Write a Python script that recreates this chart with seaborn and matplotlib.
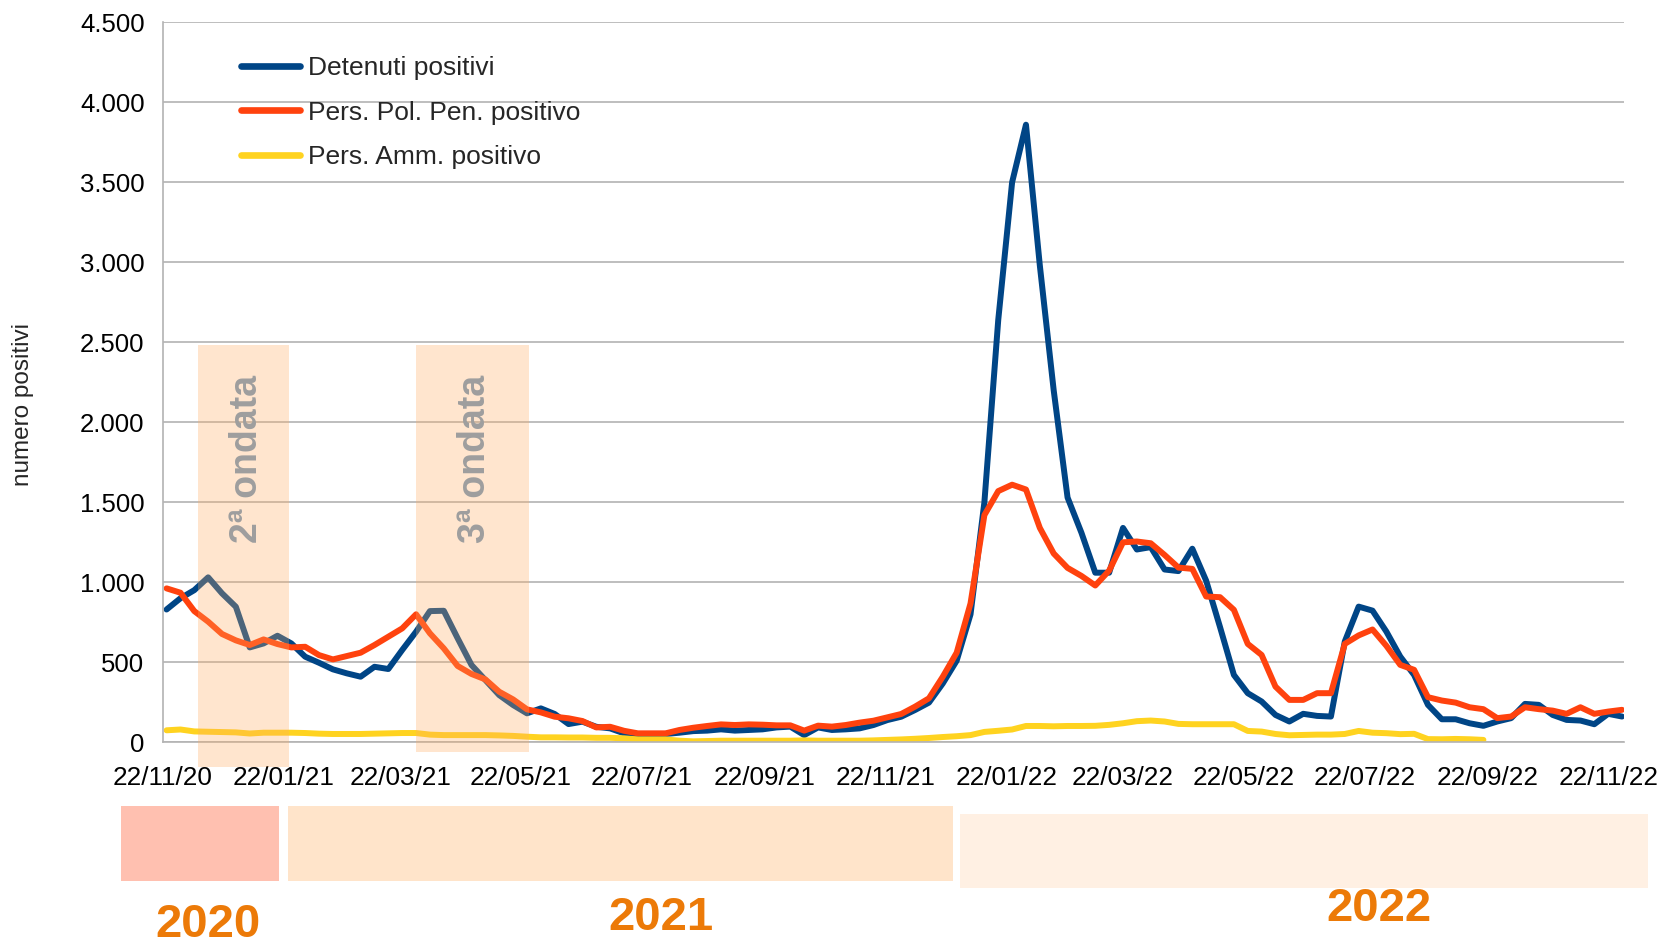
import matplotlib
matplotlib.use('Agg')
import matplotlib.pyplot as plt
import matplotlib.dates as mdates
from matplotlib.patches import Rectangle
from matplotlib.ticker import FuncFormatter, MultipleLocator
import seaborn as sns
import pandas as pd

# weekly counts, first reading 24/11/20
first_day = '2020-11-24'
detenuti = [830, 900, 951, 1031, 931, 847, 593, 618, 666, 618,
            535, 497, 456, 431, 410, 472, 458, 577, 691, 820,
            822, 650, 483, 389, 295, 233, 181, 212, 177, 114,
            129, 97, 87, 56, 52, 52, 52, 60, 70, 73,
            81, 73, 77, 81, 93, 98, 45, 93, 77, 81,
            87, 108, 139, 160, 202, 248, 368, 510, 800, 1500,
            2640, 3500, 3860, 2980, 2200, 1530, 1310, 1060, 1060, 1340,
            1205, 1220, 1080, 1070, 1210, 1010, 720, 421, 307, 255,
            171, 130, 178, 165, 161, 630, 848, 823, 692, 536,
            421, 234, 144, 144, 119, 103, 130, 151, 240, 234,
            171, 140, 136, 113, 178, 161]
pol_pen = [962, 935, 820, 754, 677, 637, 608, 643, 614, 593,
           597, 545, 518, 539, 560, 608, 660, 712, 800, 681,
           587, 477, 427, 393, 316, 268, 206, 187, 160, 150,
           133, 93, 97, 72, 56, 56, 56, 77, 91, 102,
           112, 108, 112, 110, 106, 106, 73, 104, 98, 108,
           123, 135, 156, 177, 223, 275, 410, 560, 868, 1420,
           1570, 1610, 1580, 1340, 1180, 1090, 1040, 980, 1073, 1250,
           1255, 1244, 1171, 1092, 1084, 911, 907, 828, 615, 546,
           348, 265, 265, 307, 307, 615, 668, 705, 603, 484,
           453, 282, 261, 248, 219, 207, 151, 161, 219, 207,
           198, 178, 219, 178, 192, 203]
amm = [75, 80, 68, 66, 64, 62, 55, 60, 60, 60,
       58, 54, 52, 52, 52, 54, 56, 58, 58, 48,
       45, 45, 45, 45, 43, 40, 35, 31, 31, 30,
       30, 28, 28, 25, 18, 18, 18, 10, 6, 8,
       10, 10, 10, 10, 10, 10, 12, 10, 10, 10,
       10, 12, 15, 18, 22, 27, 33, 38, 45, 65,
       72, 80, 102, 102, 100, 102, 102, 103, 109, 119,
       132, 136, 130, 115, 113, 113, 113, 113, 71, 67,
       52, 44, 46, 48, 48, 52, 71, 60, 57, 51,
       53, 20, 19, 21, 19, 15]

series_names = ['Detenuti positivi', 'Pers. Pol. Pen. positivo', 'Pers. Amm. positivo']
series_colors = ['#004586', '#ff420e', '#ffd320']

tick_dates = ['2020-11-22', '2021-01-22', '2021-03-22', '2021-05-22', '2021-07-22',
              '2021-09-22', '2021-11-22', '2022-01-22', '2022-03-22', '2022-05-22',
              '2022-07-22', '2022-09-22', '2022-11-22']
tick_labels = ['22/11/20', '22/01/21', '22/03/21', '22/05/21', '22/07/21', '22/09/21',
               '22/11/21', '22/01/22', '22/03/22', '22/05/22', '22/07/22', '22/09/22',
               '22/11/22']

wave_labels = ['2ª ondata', '3ª ondata']
wave_start = ['2020-12-10', '2021-03-30']
wave_end = ['2021-01-25', '2021-05-26']

years = ['2020', '2021', '2022']

dates = pd.date_range(first_day, periods=len(detenuti), freq='7D')

sns.set_style('white')
plt.rcParams['font.family'] = ['Liberation Sans', 'DejaVu Sans']

W, H = 1666, 944
fig = plt.figure(figsize=(W / 100, H / 100), dpi=100)
ax = fig.add_axes([162.6 / W, 1 - 742.3 / H, (1623.5 - 162.6) / W, 720 / H])

for vals, name, col in zip([detenuti, pol_pen, amm], series_names, series_colors):
    sns.lineplot(x=dates[:len(vals)], y=vals, color=col, linewidth=4.3, label=name,
                 ax=ax, zorder=2)

ax.set_xlim(pd.Timestamp('2020-11-22'), pd.Timestamp('2022-11-29 18:00'))
ax.set_ylim(0, 4500)
ax.yaxis.set_major_locator(MultipleLocator(500))
ax.yaxis.set_major_formatter(FuncFormatter(lambda v, p: f'{int(v):,}'.replace(',', '.')))
ax.set_xticks(pd.to_datetime(tick_dates))
ax.set_xticklabels(tick_labels)

grid_col = '#b3b3b3'
ax.yaxis.grid(True, color=grid_col, linewidth=1.2)
ax.set_axisbelow(True)
for s in ['top', 'right']:
    ax.spines[s].set_visible(False)
for s in ['left', 'bottom']:
    ax.spines[s].set_color(grid_col)
    ax.spines[s].set_linewidth(1.2)
ax.tick_params(axis='both', length=8, width=1.2, color=grid_col, labelcolor='black')
ax.tick_params(axis='x', pad=9, labelsize=18.8)
ax.tick_params(axis='y', pad=5, labelsize=18.5)
ax.set_xlabel('')
ax.set_ylabel('')

fig.text(23 / W, 1 - 404 / H, 'numero positivi', rotation=90, ha='center', va='center',
         fontsize=17.5)

# wave bands, drawn over the lines
wave_bottoms = [-155, -60]
for lab, s, e, b in zip(wave_labels, wave_start, wave_end, wave_bottoms):
    x0 = mdates.date2num(pd.Timestamp(s))
    x1 = mdates.date2num(pd.Timestamp(e))
    ax.add_patch(Rectangle((x0, b), x1 - x0, 2480 - b, facecolor='#ffac5f', alpha=0.3,
                           edgecolor='none', zorder=3, clip_on=False))
    ax.text((x0 + x1) / 2 + 1.5, 1770, lab, rotation=90, ha='center', va='center',
            fontsize=27, fontweight='bold', color='#9e9e9e', zorder=4)

leg = ax.legend(loc='upper left', bbox_to_anchor=(0.054, 0.953), frameon=False,
                fontsize=19, handlelength=2.2, handletextpad=0.32, labelspacing=0.78,
                borderpad=0, borderaxespad=0)
for ln in leg.get_lines():
    ln.set_linewidth(4.8)

# year boxes under the axis
year_boxes = [(121, 806, 279, 881, '#ffc0b0'),
              (288, 806, 953, 881, '#ffe4ca'),
              (960, 814, 1648, 888, '#fff0e3')]
year_pos = [(208, 925), (661, 918), (1379, 909)]
for (x0, y0, x1, y1, c), yr, (tx, ty) in zip(year_boxes, years, year_pos):
    fig.patches.append(Rectangle((x0 / W, 1 - y1 / H), (x1 - x0) / W, (y1 - y0) / H,
                                 transform=fig.transFigure, facecolor=c,
                                 edgecolor='none', zorder=0))
    fig.text(tx / W, 1 - ty / H, yr, ha='center', va='center', fontsize=34,
             fontweight='bold', color='#ec7a08')

fig.savefig('out.png', dpi=100)
plt.close(fig)
